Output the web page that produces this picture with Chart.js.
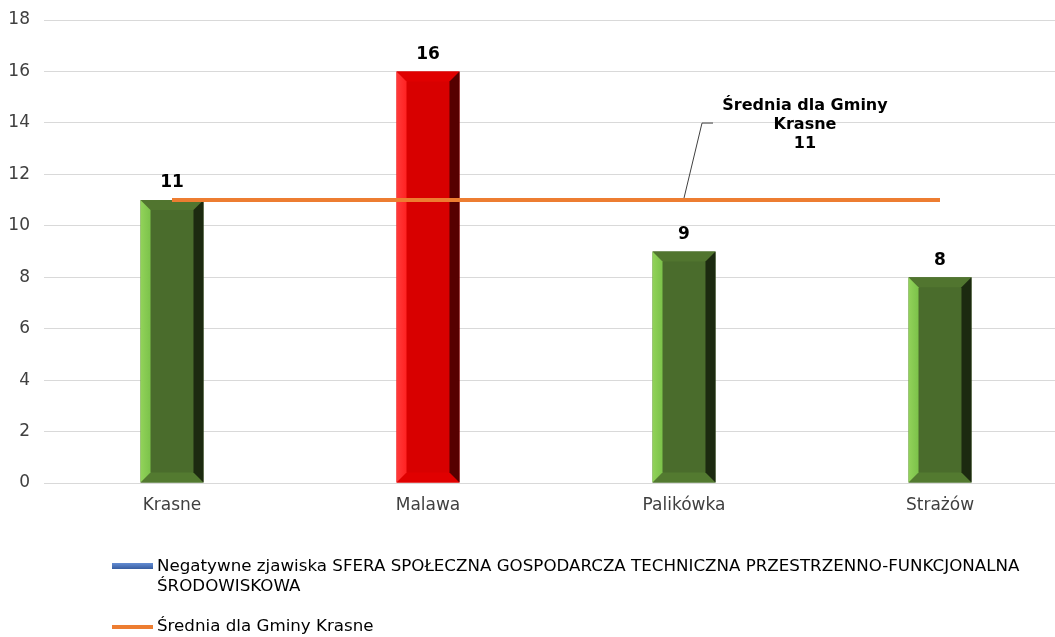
<!DOCTYPE html>
<html>
<head>
<meta charset="utf-8">
<script src="https://cdn.jsdelivr.net/npm/chart.js@4"></script>
<style>
  html, body { margin: 0; padding: 0; background: #fff; overflow: hidden; }
  #wrap { width: 1070px; height: 637px; }
</style>
</head>
<body>
<div id="wrap"><canvas id="chart"></canvas></div>
<script>
// dane
var categories = ['Krasne', 'Malawa', 'Palikówka', 'Strażów'];
var zjawiska = [11, 16, 9, 8];
var srednia = [11, 11, 11, 11];
var yTicks = [0, 2, 4, 6, 8, 10, 12, 14, 16, 18];
var barLabel = 'Negatywne zjawiska SFERA SPOŁECZNA GOSPODARCZA TECHNICZNA PRZESTRZENNO-FUNKCJONALNA ŚRODOWISKOWA';
var lineLabel = 'Średnia dla Gminy Krasne';
var maxIndex = zjawiska.indexOf(Math.max.apply(null, zjawiska));

var FONT = '"DejaVu Sans", Verdana, sans-serif';

// kolory słupków (zielony / czerwony dla maksimum)
var green = { main: '#4a6c2c', light: '#7cc24a', lightEdge: '#92d35a', dark: '#1c2a10', top: '#51752f', bottom: '#537a30' };
var red = { main: '#d80000', light: '#ff2222', lightEdge: '#ff3a3a', dark: '#560000', top: '#e00000', bottom: '#e00000' };
function barColors(i) { return i === maxIndex ? red : green; }

// fazowanie słupków
var bevelPlugin = {
  id: 'bevel',
  afterDatasetDraw: function (chart, args) {
    if (args.index !== 1) return;
    var ctx = chart.ctx;
    var meta = chart.getDatasetMeta(1);
    meta.data.forEach(function (bar, i) {
      var c = barColors(i);
      var l = bar.x - bar.width / 2, r = bar.x + bar.width / 2;
      var t = bar.y, b = bar.base, d = 10;
      ctx.save();
      // góra
      ctx.fillStyle = c.top;
      ctx.beginPath();
      ctx.moveTo(l, t); ctx.lineTo(r, t); ctx.lineTo(r - d, t + d); ctx.lineTo(l + d, t + d); ctx.closePath(); ctx.fill();
      // dół
      ctx.fillStyle = c.bottom;
      ctx.beginPath();
      ctx.moveTo(l, b); ctx.lineTo(r, b); ctx.lineTo(r - d, b - d); ctx.lineTo(l + d, b - d); ctx.closePath(); ctx.fill();
      // lewa strona
      var g = ctx.createLinearGradient(l, 0, l + d, 0);
      g.addColorStop(0, c.lightEdge); g.addColorStop(1, c.light);
      ctx.fillStyle = g;
      ctx.beginPath();
      ctx.moveTo(l, t); ctx.lineTo(l + d, t + d); ctx.lineTo(l + d, b - d); ctx.lineTo(l, b); ctx.closePath(); ctx.fill();
      // prawa strona
      ctx.fillStyle = c.dark;
      ctx.beginPath();
      ctx.moveTo(r, t); ctx.lineTo(r - d, t + d); ctx.lineTo(r - d, b - d); ctx.lineTo(r, b); ctx.closePath(); ctx.fill();
      ctx.restore();
    });
  }
};

// etykiety wartości, opis średniej, legenda
var labelsPlugin = {
  id: 'valueLabels',
  afterDraw: function (chart) {
    var ctx = chart.ctx;
    var meta = chart.getDatasetMeta(1);
    ctx.save();
    ctx.fillStyle = '#000';
    ctx.font = 'bold 17px ' + FONT;
    ctx.textAlign = 'center';
    ctx.textBaseline = 'middle';
    meta.data.forEach(function (bar, i) {
      ctx.fillText(String(zjawiska[i]), bar.x, bar.y - 17);
    });

    // opis linii średniej z linią odniesienia
    var xs = chart.scales.x, ys = chart.scales.y;
    var ax = xs.getPixelForValue(2), ay = ys.getPixelForValue(srednia[2]);
    ctx.strokeStyle = '#404040';
    ctx.lineWidth = 1;
    ctx.beginPath();
    ctx.moveTo(ax, ay - 2);
    ctx.lineTo(ax + 18, ay - 77);
    ctx.lineTo(ax + 29, ay - 77);
    ctx.stroke();
    ctx.font = 'bold 16px ' + FONT;
    ctx.fillStyle = '#000';
    var tx = ax + 121;
    ctx.fillText('Średnia dla Gminy', tx, ay - 94);
    ctx.fillText('Krasne', tx, ay - 75);
    ctx.fillText(String(srednia[2]), tx, ay - 56);

    // legenda
    var lx = 112;
    ctx.textAlign = 'left';
    ctx.font = '16.7px ' + FONT;
    var bg = ctx.createLinearGradient(0, 562, 0, 570);
    bg.addColorStop(0, '#6b95dc'); bg.addColorStop(1, '#2f5597');
    ctx.fillStyle = bg;
    ctx.fillRect(lx, 563, 41, 6);
    ctx.fillStyle = '#000';
    ctx.fillText('Negatywne zjawiska SFERA SPOŁECZNA GOSPODARCZA TECHNICZNA PRZESTRZENNO-FUNKCJONALNA', 157, 567);
    ctx.fillText('ŚRODOWISKOWA', 157, 587);
    ctx.strokeStyle = '#ed7d31';
    ctx.lineWidth = 4;
    ctx.beginPath();
    ctx.moveTo(lx, 627); ctx.lineTo(lx + 41, 627);
    ctx.stroke();
    ctx.fillText(lineLabel, 157, 627);
    ctx.restore();
  }
};

var ctx = document.getElementById('chart').getContext('2d');

var chart = new Chart(ctx, {
  type: 'bar',
  data: {
    labels: categories,
    datasets: [
      {
        type: 'line',
        label: lineLabel,
        data: srednia,
        borderColor: '#ed7d31',
        borderWidth: 4,
        pointRadius: 0,
        fill: false,
        order: 0
      },
      {
        label: barLabel,
        data: zjawiska,
        backgroundColor: zjawiska.map(function (v, i) { return barColors(i).main; }),
        borderWidth: 0,
        barPercentage: 0.246,
        categoryPercentage: 1,
        order: 1
      }
    ]
  },
  options: {
    responsive: true,
    maintainAspectRatio: false,
    animation: false,
    layout: { padding: { top: 20, right: 2, bottom: 124, left: 0 } },
    plugins: {
      legend: { display: false },
      tooltip: { enabled: false }
    },
    scales: {
      x: {
        grid: { display: false, drawTicks: false },
        border: { display: false },
        ticks: { color: '#404040', font: { family: FONT, size: 17 }, padding: 12 },
        afterFit: function (s) { s.height = 30; s.paddingLeft = 0; s.paddingRight = 0; }
      },
      y: {
        min: 0,
        max: 18,
        afterBuildTicks: function (s) { s.ticks = yTicks.map(function (v) { return { value: v }; }); },
        grid: { color: '#d9d9d9', lineWidth: 1, drawTicks: false },
        border: { display: false },
        ticks: { color: '#404040', font: { family: FONT, size: 17 }, padding: 14 },
        afterFit: function (s) { s.width = 44; s.paddingTop = 0; s.paddingBottom = 0; }
      }
    }
  },
  plugins: [bevelPlugin, labelsPlugin]
});
</script>
</body>
</html>
